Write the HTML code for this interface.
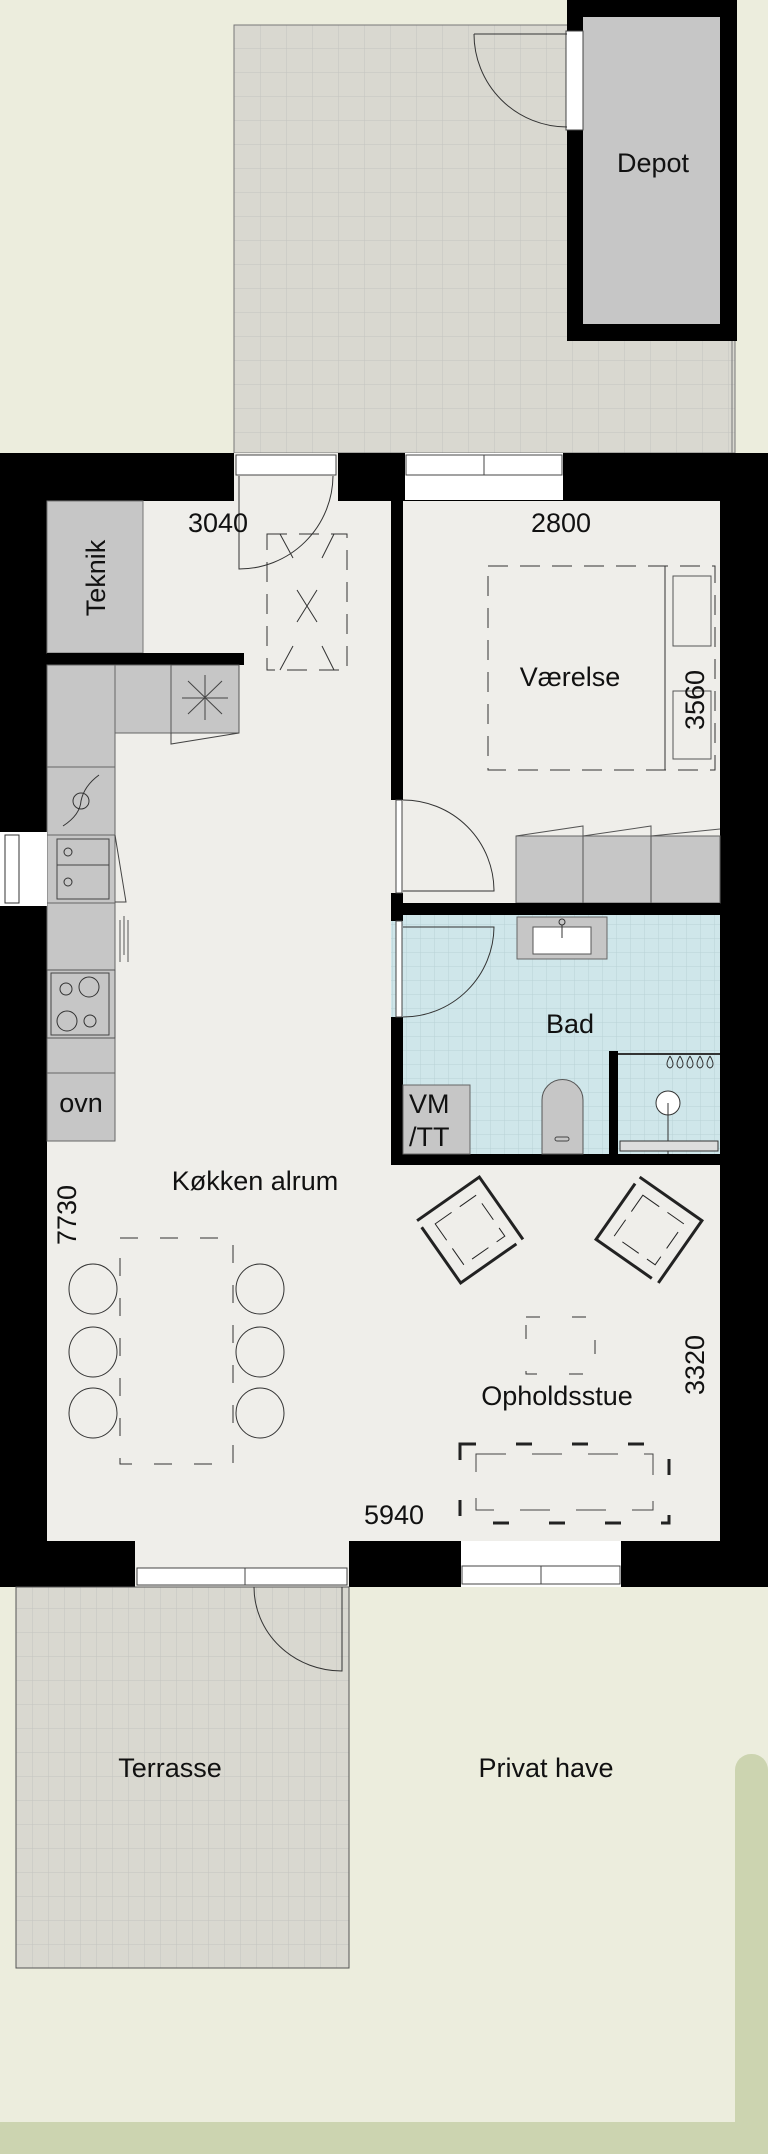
<!DOCTYPE html>
<html><head><meta charset="utf-8"><style>
html,body{margin:0;padding:0;background:#ECEDDD}
svg{display:block}
text{font-family:"Liberation Sans",sans-serif;fill:#111}
</style></head><body>
<svg width="768" height="2154" viewBox="0 0 768 2154" xmlns="http://www.w3.org/2000/svg">
<defs>
<pattern id="pave" width="26" height="24" patternUnits="userSpaceOnUse"><rect width="26" height="24" fill="#D9D8D0"/><path d="M0 0H26M0 0V24" stroke="#C4C4C0" stroke-width="1"/></pattern>
<pattern id="pave2" width="16" height="24" patternUnits="userSpaceOnUse"><rect width="16" height="24" fill="#D9D8D0"/><path d="M0 0H16M0 0V24" stroke="#C4C4C0" stroke-width="1"/></pattern>
<pattern id="tile" width="14" height="14" patternUnits="userSpaceOnUse"><rect width="14" height="14" fill="#CFE6EA"/><path d="M0 0H14M0 0V14" stroke="#B8D2D6" stroke-width="1"/></pattern>
</defs>
<rect x="0" y="0" width="768" height="2154" fill="#ECEDDD"/>
<rect x="735" y="1754" width="33" height="400" rx="16" fill="#CCD4B0"/>
<rect x="0" y="2122" width="768" height="32" fill="#CCD4B0"/>
<rect x="234" y="25" width="501" height="428" fill="url(#pave)" stroke="#777" stroke-width="1"/>
<line x1="732" y1="341" x2="732" y2="453" stroke="#777"/>
<rect x="567" y="0" width="170" height="341" fill="#000"/>
<rect x="583" y="17" width="137" height="307" fill="#C6C6C6"/>
<text x="653" y="172" font-size="27" text-anchor="middle">Depot</text>
<rect x="566" y="31" width="17" height="99" fill="#fff" stroke="#444"/>
<path d="M474 34 H567 M474 34 A93 93 0 0 0 567 127" fill="none" stroke="#333" stroke-width="1"/>
<rect x="0" y="453" width="768" height="1134" fill="#000"/>
<rect x="47" y="501" width="673" height="1040" fill="#EFEEEA"/>
<rect x="234" y="453" width="104" height="48" fill="#EFEEEA"/>
<rect x="236" y="455" width="100" height="20" fill="#fff" stroke="#444"/>
<path d="M239 476 V569 A94 94 0 0 0 333 476" fill="none" stroke="#333"/>
<rect x="405" y="453" width="158" height="47" fill="#fff"/>
<rect x="406" y="455" width="156" height="20" fill="#fff" stroke="#444"/>
<line x1="484" y1="455" x2="484" y2="475" stroke="#444"/>
<rect x="391" y="501" width="12" height="663" fill="#000"/>
<rect x="391" y="800" width="12" height="93" fill="#EFEEEA"/>
<rect x="396" y="800" width="6" height="93" fill="#fff" stroke="#444"/>
<path d="M403 800 A91 91 0 0 1 494 891 H403" fill="none" stroke="#333"/>
<rect x="47" y="501" width="96" height="152" fill="#C6C6C6" stroke="#777"/>
<text transform="translate(105,578) rotate(-90)" font-size="27" text-anchor="middle">Teknik</text>
<text x="218" y="532" font-size="27" text-anchor="middle">3040</text>
<text x="561" y="532" font-size="27" text-anchor="middle">2800</text>
<g stroke="#333" fill="none" stroke-dasharray="20 12">
<rect x="267" y="534" width="80" height="136"/>
<rect x="488" y="566" width="227" height="204"/>
</g>
<path d="M280 534 L293 558 M334 534 L322 558 M297 590 L317 622 M317 590 L297 622 M280 670 L293 646 M334 670 L322 646" stroke="#333"/>
<line x1="665" y1="566" x2="665" y2="770" stroke="#333"/>
<rect x="673" y="576" width="38" height="70" fill="none" stroke="#555"/>
<rect x="673" y="691" width="38" height="68" fill="none" stroke="#555"/>
<text x="570" y="686" font-size="27" text-anchor="middle">Værelse</text>
<text transform="translate(704,700) rotate(-90)" font-size="27" text-anchor="middle">3560</text>
<rect x="47" y="653" width="197" height="12" fill="#000"/>
<rect x="115" y="665" width="124" height="68" fill="#C6C6C6" stroke="#666"/>
<rect x="171" y="665" width="68" height="68" fill="#C6C6C6" stroke="#555"/>
<path d="M182 698 H228 M205 675 V720 M188 681 L222 714 M222 681 L188 714" stroke="#444"/>
<path d="M171 733 L171 744 L239 733" fill="none" stroke="#444"/>
<rect x="47" y="665" width="68" height="476" fill="#C6C6C6" stroke="#666"/>
<rect x="47" y="767" width="68" height="68" fill="#C6C6C6" stroke="#666"/>
<circle cx="81" cy="801" r="8" fill="none" stroke="#333"/>
<path d="M63 826 Q80 815 81 801 Q84 786 99 775" fill="none" stroke="#333"/>
<rect x="47" y="835" width="68" height="68" fill="#C6C6C6" stroke="#666"/>
<rect x="57" y="839" width="52" height="60" fill="none" stroke="#444"/>
<line x1="57" y1="865" x2="109" y2="865" stroke="#444"/>
<circle cx="68" cy="852" r="4" fill="none" stroke="#333"/><circle cx="68" cy="882" r="4" fill="none" stroke="#333"/>
<path d="M115 835 L126 902 H115" fill="none" stroke="#444"/>
<rect x="0" y="832" width="47" height="74" fill="#fff"/>
<rect x="5" y="835" width="14" height="68" fill="none" stroke="#333"/>
<rect x="47" y="970" width="68" height="68" fill="#C6C6C6" stroke="#555"/>
<rect x="51" y="973" width="58" height="62" fill="none" stroke="#444"/>
<circle cx="66" cy="989" r="6" fill="none" stroke="#333"/><circle cx="89" cy="987" r="10" fill="none" stroke="#333"/>
<circle cx="67" cy="1021" r="10" fill="none" stroke="#333"/><circle cx="90" cy="1021" r="6" fill="none" stroke="#333"/>
<path d="M120 920 V962 M124 916 V955 M128 920 V962" stroke="#555"/>
<rect x="47" y="1073" width="68" height="68" fill="#C6C6C6" stroke="#666"/>
<text x="81" y="1112" font-size="27" text-anchor="middle">ovn</text>
<rect x="516" y="836" width="204" height="67" fill="#C6C6C6" stroke="#666"/>
<path d="M583 836 V903 M651 836 V903 M516 836 L583 826 V836 M583 836 L651 826 V836 M651 836 L720 829" fill="none" stroke="#555"/>
<rect x="391" y="903" width="329" height="12" fill="#000"/>
<rect x="403" y="915" width="317" height="239" fill="url(#tile)"/>
<rect x="391" y="1154" width="329" height="11" fill="#000"/>
<rect x="391" y="921" width="12" height="96" fill="url(#tile)"/>
<rect x="396" y="921" width="6" height="96" fill="#fff" stroke="#444"/>
<path d="M403 927 H494 A91 91 0 0 1 403 1017" fill="none" stroke="#333"/>
<rect x="517" y="917" width="90" height="42" fill="#C6C6C6" stroke="#666"/>
<rect x="533" y="927" width="58" height="27" fill="#fff" stroke="#555"/>
<circle cx="562" cy="922" r="3" fill="none" stroke="#333"/><line x1="562" y1="925" x2="562" y2="938" stroke="#333"/>
<text x="570" y="1033" font-size="27" text-anchor="middle">Bad</text>
<rect x="609" y="1051" width="9" height="103" fill="#000"/>
<line x1="618" y1="1054" x2="720" y2="1054" stroke="#333" stroke-width="2"/>
<path d="M670 1056 q-6 10 0 12 q6 -2 0 -12 M680 1056 q-6 10 0 12 q6 -2 0 -12 M690 1056 q-6 10 0 12 q6 -2 0 -12 M700 1056 q-6 10 0 12 q6 -2 0 -12 M710 1056 q-6 10 0 12 q6 -2 0 -12" fill="none" stroke="#333"/>
<circle cx="668" cy="1103" r="12" fill="#fff" stroke="#333"/>
<line x1="668" y1="1103" x2="668" y2="1154" stroke="#333"/>
<rect x="620" y="1141" width="98" height="10" fill="#ddd" stroke="#333"/>
<rect x="403" y="1085" width="67" height="69" fill="#C6C6C6" stroke="#666"/>
<text x="409" y="1113" font-size="27">VM</text>
<text x="409" y="1146" font-size="27">/TT</text>
<path d="M542 1154 V1100 A20.5 20.5 0 0 1 583 1100 V1154 Z" fill="#C6C6C6" stroke="#555"/>
<rect x="555" y="1137" width="14" height="4" rx="2" fill="none" stroke="#444"/>
<text x="255" y="1190" font-size="27" text-anchor="middle">Køkken alrum</text>
<text transform="translate(76,1215) rotate(-90)" font-size="27" text-anchor="middle">7730</text>
<rect x="120" y="1238" width="113" height="226" fill="none" stroke="#333" stroke-dasharray="18 22"/>
<g fill="none" stroke="#333">
<ellipse cx="93" cy="1289" rx="24" ry="25"/><ellipse cx="93" cy="1352" rx="24" ry="25"/><ellipse cx="93" cy="1413" rx="24" ry="25"/>
<ellipse cx="260" cy="1289" rx="24" ry="25"/><ellipse cx="260" cy="1352" rx="24" ry="25"/><ellipse cx="260" cy="1413" rx="24" ry="25"/>
</g>
<g transform="translate(470,1230) rotate(-35)" fill="none" stroke="#222">
<path d="M-38 -38 H38 V38" stroke-width="3"/><path d="M-38 -30 V38 H30" stroke-width="3"/>
<rect x="-25" y="-25" width="50" height="50" stroke-dasharray="20 10" stroke-width="1"/>
</g>
<g transform="translate(649,1230) rotate(35)" fill="none" stroke="#222">
<path d="M-38 -38 H38 V38" stroke-width="3"/><path d="M-38 -30 V38 H30" stroke-width="3"/>
<rect x="-25" y="-25" width="50" height="50" stroke-dasharray="20 10" stroke-width="1"/>
</g>
<rect x="526" y="1317" width="69" height="57" fill="none" stroke="#333" stroke-dasharray="14 32"/>
<text x="557" y="1405" font-size="27" text-anchor="middle">Opholdsstue</text>
<text transform="translate(704,1365) rotate(-90)" font-size="27" text-anchor="middle">3320</text>
<rect x="460" y="1444" width="209" height="79" fill="none" stroke="#222" stroke-width="3" stroke-dasharray="16 40"/>
<rect x="476" y="1454" width="177" height="56" fill="none" stroke="#444" stroke-dasharray="30 26"/>
<text x="394" y="1524" font-size="27" text-anchor="middle">5940</text>
<rect x="135" y="1541" width="214" height="46" fill="#EFEEEA"/>
<rect x="137" y="1568" width="210" height="17" fill="#fff" stroke="#444"/>
<line x1="245" y1="1568" x2="245" y2="1585" stroke="#444"/>
<rect x="461" y="1541" width="160" height="46" fill="#fff"/>
<rect x="462" y="1566" width="158" height="18" fill="#fff" stroke="#444"/>
<line x1="541" y1="1566" x2="541" y2="1584" stroke="#444"/>
<rect x="16" y="1587" width="333" height="381" fill="url(#pave2)" stroke="#555"/>
<path d="M254 1587 A88 84 0 0 0 342 1671 V1587" fill="none" stroke="#333"/>
<text x="170" y="1777" font-size="27" text-anchor="middle">Terrasse</text>
<text x="546" y="1777" font-size="27" text-anchor="middle">Privat have</text>
</svg>
</body></html>
